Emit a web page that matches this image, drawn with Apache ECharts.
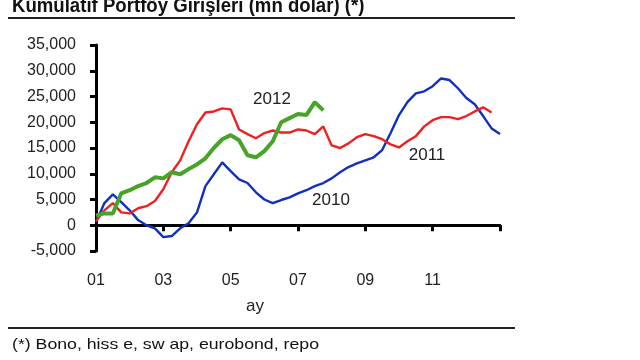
<!DOCTYPE html>
<html>
<head>
<meta charset="utf-8">
<script src="https://cdn.jsdelivr.net/npm/echarts@6/dist/echarts.min.js"></script>
<style>
html,body{margin:0;padding:0;background:#fff;}
#c{width:640px;height:360px;}
</style>
</head>
<body>
<div id="c"></div>
<script>
// x positions in months from start of year (quarter-month steps)
const xMonths = [0,0.25,0.5,0.75,1,1.25,1.5,1.75,2,2.25,2.5,2.75,3,3.25,3.5,3.75,4,4.25,4.5,4.75,5,5.25,5.5,5.75,6,6.25,6.5,6.75,7,7.25,7.5,7.75,8,8.25,8.5,8.75,9,9.25,9.5,9.75,10,10.25,10.5,10.75,11,11.25,11.5,11.75,12];
const tickLabels = ['01','03','05','07','09','11',''];
const s2010 = [600,4300,6000,4500,2900,1000,0,-600,-2300,-2100,-600,400,2500,7600,9900,12200,10500,8900,8200,6400,5000,4300,4900,5400,6200,6800,7600,8200,9100,10300,11300,12000,12600,13200,14600,17900,21400,23900,25600,26000,27000,28500,28200,26600,24700,23500,21200,18800,17700];
const s2011 = [800,2900,4300,2500,2300,3300,3700,4700,7000,10300,12600,16300,19600,21900,22100,22700,22500,18600,17700,16900,17900,18400,18000,18000,18600,18400,17700,19200,15500,15000,15900,17100,17700,17300,16700,15700,15100,16300,17300,19200,20400,21000,21000,20600,21200,22100,22900,21900];
const s2012 = [1900,2300,2300,6200,6800,7600,8200,9300,9100,10300,9900,10900,11800,13000,15000,16700,17500,16500,13600,13200,14400,16300,20000,20800,21600,21400,23900,22300];
const seriesNames = ['2010','2011','2012'];
const titleText = 'Kümülatif Portföy Girişleri (mn dolar) (*)';
const footText = '(*) Bono, hiss e, sw ap, eurobond, repo';
const axisName = 'ay';

function pairs(vals){ return vals.map((v,i)=>[xMonths[i], v]); }

const chart = echarts.init(document.getElementById('c'), null, {renderer:'canvas'});
const F = 'Liberation Sans, Arial, sans-serif';
const opt = {
  animation:false,
  grid:{left:96,right:140,top:45,bottom:109,containLabel:false},
  xAxis:{type:'value',min:0,max:12,interval:2,
    axisLine:{onZero:true,lineStyle:{color:'#000',width:3}},
    axisTick:{show:true,length:6,lineStyle:{color:'#000',width:3}},
    splitLine:{show:false},
    axisLabel:{margin:22,color:'#222',fontFamily:F,fontSize:16,
      formatter:(v)=>tickLabels[Math.round(v/2)]}},
  yAxis:{type:'value',min:-5000,max:35000,interval:5000,
    axisLine:{show:true,lineStyle:{color:'#000',width:3}},
    axisTick:{show:true,length:6,lineStyle:{color:'#000',width:3}},
    splitLine:{show:false},
    axisLabel:{margin:20,color:'#222',fontFamily:F,fontSize:16,
      formatter:(v)=>v.toLocaleString('en-US')}},
  series:[
    {name:seriesNames[0],type:'line',data:pairs(s2010),showSymbol:false,lineStyle:{color:'#1030c0',width:2.4},z:3},
    {name:seriesNames[1],type:'line',data:pairs(s2011),showSymbol:false,lineStyle:{color:'#f02020',width:2.4},z:4},
    {name:seriesNames[2],type:'line',data:pairs(s2012),showSymbol:false,lineStyle:{color:'#48a428',width:4},z:5}
  ],
  graphic:[
    {type:'text',x:12,y:-3.7,scaleX:0.93,style:{text:titleText,font:'bold 20px '+F,fill:'#111',verticalAlign:'top'}},
    {type:'line',shape:{x1:8,y1:18,x2:515,y2:18},style:{stroke:'#222',lineWidth:2}},
    {type:'line',shape:{x1:8,y1:328,x2:515,y2:328},style:{stroke:'#222',lineWidth:2}},
    {type:'text',x:12,y:345,scaleX:1.18,style:{text:footText,font:'15px '+F,fill:'#111',verticalAlign:'middle'}},
    {type:'text',x:255,y:306,style:{text:axisName,font:'17px '+F,fill:'#222',align:'center',verticalAlign:'middle'}},
    {type:'text',x:272,y:99,style:{text:seriesNames[2],font:'17px '+F,fill:'#222',align:'center',verticalAlign:'middle'}},
    {type:'text',x:427,y:155,style:{text:seriesNames[1],font:'17px '+F,fill:'#222',align:'center',verticalAlign:'middle'}},
    {type:'text',x:331,y:200,style:{text:seriesNames[0],font:'17px '+F,fill:'#222',align:'center',verticalAlign:'middle'}}
  ]
};
chart.setOption(opt);
</script>
</body>
</html>
